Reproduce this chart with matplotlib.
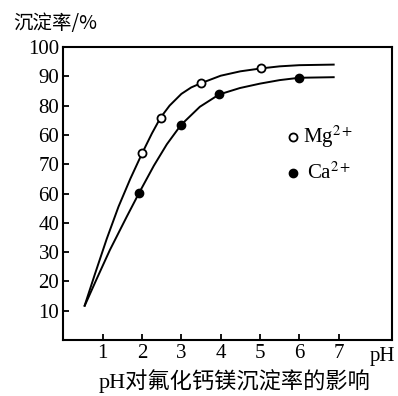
import matplotlib
matplotlib.use("Agg")
import matplotlib.pyplot as plt

plt.rcParams["mathtext.fontset"] = "stix"

# ---- data ----
mg_x = [2.0, 2.47, 3.49, 5.03]
mg_y = [63.7, 75.9, 87.6, 92.7]
ca_x = [1.92, 2.99, 3.96, 6.0]
ca_y = [50.1, 73.4, 83.8, 89.5]

# traced curves
mg_curve_x = [0.53, 0.8, 1.1, 1.4, 1.7, 2.0, 2.25, 2.47, 2.7, 3.0, 3.25, 3.49, 4.0, 4.5, 5.03, 5.5, 6.0, 6.9]
mg_curve_y = [11.4, 22.5, 34.5, 45.5, 55.0, 63.7, 70.5, 75.9, 80.0, 84.0, 86.2, 87.6, 90.2, 91.7, 92.7, 93.4, 93.8, 94.0]
ca_curve_x = [0.53, 0.85, 1.18, 1.61, 1.92, 2.3, 2.63, 2.99, 3.47, 3.96, 4.49, 5.0, 5.5, 6.0, 6.9]
ca_curve_y = [11.4, 21.0, 30.7, 42.1, 50.1, 59.5, 66.8, 73.4, 79.6, 83.8, 86.0, 87.5, 88.7, 89.5, 89.7]

x_ticks = [1, 2, 3, 4, 5, 6, 7]
y_ticks = [100, 90, 80, 70, 60, 50, 40, 30, 20, 10]
y_tick_labels = ["100", "90", "80", "60", "70", "60", "40", "30", "20", "10"]

serif = ["Liberation Serif", "Noto Sans CJK SC"]
cjk = ["Noto Sans CJK SC", "Liberation Serif"]

fig = plt.figure(figsize=(3.98, 3.96), dpi=100)
ax = fig.add_axes([0.1595, 0.1414, 0.8255, 0.7399])

ax.plot(mg_curve_x, mg_curve_y, color="black", lw=1.4, solid_capstyle="butt", solid_joinstyle="round")
ax.plot(ca_curve_x, ca_curve_y, color="black", lw=1.4, solid_capstyle="butt", solid_joinstyle="round")
ax.plot(mg_x, mg_y, "o", ms=5.8, mfc="white", mec="black", mew=1.3, zorder=5)
ax.plot(ca_x, ca_y, "o", ms=6.0, mfc="black", mec="black", mew=1.0, zorder=5)

ax.set_xlim(0, 8.36)
ax.set_ylim(0, 100)
ax.set_xticks(x_ticks)
ax.set_xticklabels([str(v) for v in x_ticks], family=serif, fontsize=15)
ax.set_yticks(y_ticks)
ax.set_yticklabels(y_tick_labels, family=serif, fontsize=15)
ax.tick_params(direction="in", length=4, width=1.3, pad=3)

for s in ax.spines.values():
    s.set_linewidth(1.5)

# legend drawn manually
ax.plot([0.70], [0.692], "o", ms=5.8, mfc="white", mec="black", mew=1.3, transform=ax.transAxes, clip_on=False)
ax.plot([0.70], [0.569], "o", ms=6.0, mfc="black", mec="black", transform=ax.transAxes, clip_on=False)
ax.text(0.729, 0.692, "Mg$^{2+}$", transform=ax.transAxes, va="center", ha="left", family=serif, fontsize=15)
ax.text(0.742, 0.569, "Ca$^{2+}$", transform=ax.transAxes, va="center", ha="left", family=serif, fontsize=15)

ax.text(0.97, -0.058, "pH", transform=ax.transAxes, va="center", ha="center", family=serif, fontsize=15)

fig.text(0.14, 0.94, "沉淀率/%", ha="center", va="center", family=cjk, fontsize=14)
fig.text(0.59, 0.037, "pH对氟化钙镁沉淀率的影响", ha="center", va="center", family=serif, fontsize=16)

fig.savefig("out.png", dpi=100)
